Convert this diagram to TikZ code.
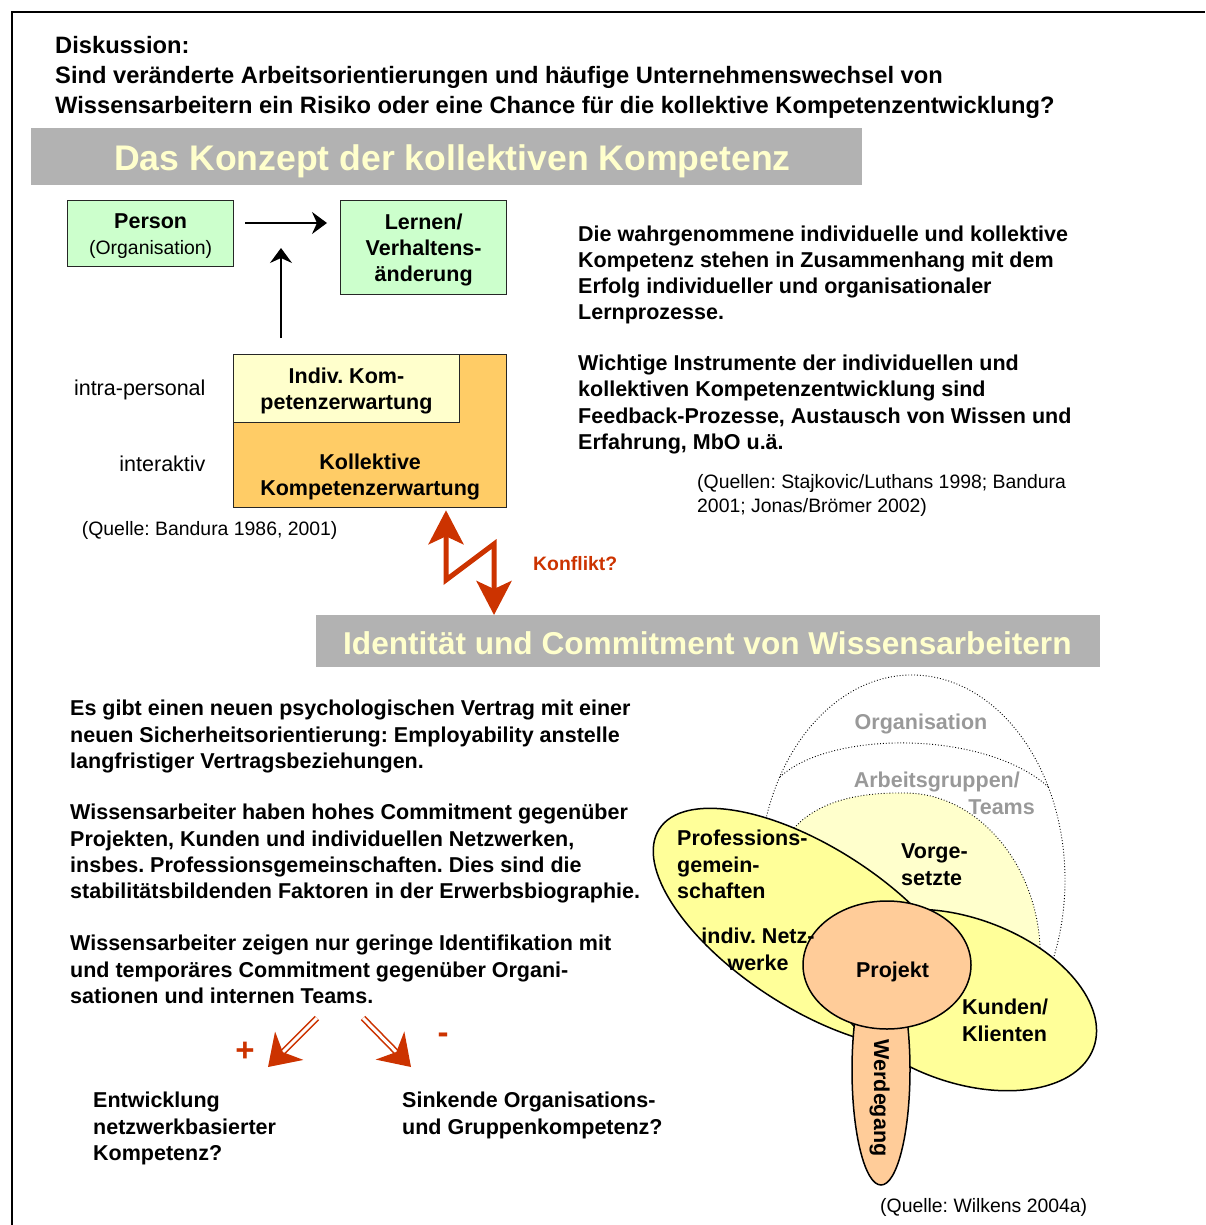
\documentclass[tikz,border=0pt]{standalone}
\usepackage{fontspec}
\setmainfont{Liberation Sans}
\usetikzlibrary{arrows.meta,positioning,calc,shapes.geometric}
\definecolor{boxgreen}{HTML}{CCFFCC}
\definecolor{paleyellow}{HTML}{FFFFCC}
\definecolor{kollorange}{HTML}{FFCC66}
\definecolor{bannergray}{HTML}{B2B2B2}
\definecolor{conflictred}{HTML}{CC3300}
\definecolor{ringyellow}{HTML}{FFFF99}
\definecolor{coreorange}{HTML}{FFCC99}
\definecolor{labelgray}{HTML}{999999}

\newcommand{\bodyfont}{\fontsize{21.5}{26.2}\selectfont\bfseries}
\newcommand{\notefont}{\fontsize{19.4}{23.3}\selectfont}
\newcommand{\boxstrut}{\rule[-5.4pt]{0pt}{26.2pt}}
\frenchspacing

\begin{document}
\begin{tikzpicture}[x=1pt, y=-1pt,
  box/.style={draw=black!85, line width=1.3pt, align=center, inner sep=0pt, anchor=north west, font=\bodyfont},
  banner/.style={fill=bannergray, inner sep=0pt, anchor=north west},
  bantext/.style={text=paleyellow, font=\fontsize{#1}{#1}\selectfont\bfseries, anchor=base west, inner sep=0pt},
  para/.style={align=left, anchor=north west, inner sep=0pt, font=\bodyfont},
  note/.style={inner sep=0pt, font=\notefont},
  flow/.style={-{Stealth[length=15pt, width=22pt, inset=5pt]}, line width=1.8pt},
  zig/.style={{Stealth[length=34pt, width=35pt, inset=8pt]}-{Stealth[length=34pt, width=35pt, inset=8pt]},
              conflictred, line width=5pt},
  hollow/.style={-{Stealth[length=30pt, width=40pt, inset=9pt]}, draw=conflictred, double=white,
                 double distance=3pt, line width=1.6pt},
  sign/.style={inner sep=0pt, font=\fontsize{33}{33}\selectfont\bfseries, text=conflictred},
  ring/.style={draw=black, line width=1.5pt, fill=ringyellow},
  core/.style={ellipse, draw=black, line width=1.5pt, fill=coreorange, inner sep=0pt},
  circletext/.style={inner sep=0pt, font=\bodyfont, align=left},
  dots/.style={dotted, line width=0.9pt},
]
  \useasboundingbox (0,0) rectangle (1205,1225);
  \draw[line width=2.2pt] (12,1225) -- (12,12) -- (1205,12);

  % Frage oben
  \node[para, font=\fontsize{23.7}{30}\selectfont\bfseries] (frage) at (55,32.5)
    {\strut Diskussion:\\Sind veränderte Arbeitsorientierungen und häufige Unternehmenswechsel von\\Wissensarbeitern ein Risiko oder eine Chance für die kollektive Kompetenzentwicklung?};

  % Konzept
  \node[banner, minimum width=831pt, minimum height=57pt] (banA) at (31,128) {};
  \node[bantext=35.6] (titelA) at (114,170.5) {Das Konzept der kollektiven Kompetenz};

  \node[box, fill=boxgreen, minimum width=166pt, minimum height=66pt] (pers) at (67,200)
    {\boxstrut Person\\{\mdseries\fontsize{19.4}{23.3}\selectfont\boxstrut(Organisation)}};
  \node[box, fill=boxgreen, minimum width=166pt, minimum height=94pt] (lern) at (340,200)
    {\boxstrut Lernen/\\\boxstrut Verhaltens-\\\boxstrut änderung};
  \node[box, fill=kollorange, minimum width=273pt, minimum height=153pt] (koll) at (233,354) {};
  \node[box, fill=paleyellow, minimum width=225.6pt, minimum height=68pt] (indiv) at (koll.north west)
    {\boxstrut Indiv. Kom-\\\boxstrut petenzerwartung};
  \node[inner sep=0pt, font=\bodyfont, align=center, above=7pt of koll.south] (kolltext)
    {\boxstrut Kollektive\\\boxstrut Kompetenzerwartung};

  \coordinate (knick) at (281,223);
  \draw[flow, shorten <=11pt, shorten >=13pt] (pers.east |- knick) -- (lern.west |- knick);
  \draw[flow, shorten <=16pt, shorten >=25pt] (indiv.north -| knick) -- (knick);

  \node[note, font=\fontsize{21.5}{26}\selectfont, anchor=base east] (intra) at (205.7,395.4) {intra-personal};
  \node[note, font=\fontsize{21.5}{26}\selectfont, anchor=base east] (inter) at (205.7,471.7) {interaktiv};
  \node[note, anchor=base west] (quelleA) at (81.7,535.2) {(Quelle: Bandura 1986, 2001)};

  \node[para] (befund) at (578,222.7)
    {\strut Die wahrgenommene individuelle und kollektive\\Kompetenz stehen in Zusammenhang mit dem\\Erfolg individueller und organisationaler\\Lernprozesse.};
  \node[para] (instr) at (578,352.1)
    {\strut Wichtige Instrumente der individuellen und\\kollektiven Kompetenzentwicklung sind\\Feedback-Prozesse, Austausch von Wissen und\\Erfahrung, MbO u.ä.};
  \node[para, font=\notefont] (quellenB) at (697,472.3)
    {\strut (Quellen: Stajkovic/Luthans 1998; Bandura\\2001; Jonas/Brömer 2002)};

  % Identitaet
  \node[banner, minimum width=784pt, minimum height=52pt] (banB) at (316,615) {};
  \node[bantext=31.6] (titelB) at (343,654) {Identität und Commitment von Wissensarbeitern};

  \coordinate (zigA) at (446,580);
  \coordinate (zigB) at (494,544);
  \draw[zig, shorten <=2pt] (koll.south -| zigA) -- (zigA) -- (zigB) -- (banB.north -| zigB);
  \node[note, font=\notefont\bfseries, text=conflictred, anchor=base west] (konfl) at (533,570.9) {Konflikt?};

  \node[para] (vertrag) at (70,697.4)
    {\strut Es gibt einen neuen psychologischen Vertrag mit einer\\neuen Sicherheitsorientierung: Employability anstelle\\langfristiger Vertragsbeziehungen.};
  \node[para] (commit) at (70,801.4)
    {\strut Wissensarbeiter haben hohes Commitment gegenüber\\Projekten, Kunden und individuellen Netzwerken,\\insbes. Professionsgemeinschaften. Dies sind die\\stabilitätsbildenden Faktoren in der Erwerbsbiographie.};
  \node[para] (ident) at (70,932.4)
    {\strut Wissensarbeiter zeigen nur geringe Identifikation mit\\und temporäres Commitment gegenüber Organi-\\sationen und internen Teams.};

  \coordinate (plusA) at (317,1018);
  \coordinate (plusB) at (268,1067);
  \coordinate (minusA) at (363,1018);
  \coordinate (minusB) at (411,1067);
  \draw[hollow] (plusA) -- (plusB);
  \draw[hollow] (minusA) -- (minusB);
  \node[sign] (plus) at (245,1052) {+};
  \node[sign] (minus) at (443,1038) {-};

  \node[para] (netz) at (93,1089.4) {\strut Entwicklung\\netzwerkbasierter\\Kompetenz?};
  \node[para] (sinken) at (402,1089.4) {\strut Sinkende Organisations-\\und Gruppenkompetenz?};

  % Ellipsen
  \draw[dots] (912,880) ++(194:153 and 205) arc[start angle=194, end angle=385, x radius=153, y radius=205];
  \draw[dots] (780,777) .. controls (830,730) and (985,730) .. (1048.4,787);
  \draw[dots, fill=paleyellow] (780,850) .. controls (800,805) and (850,792) .. (905,793)
    .. controls (975,793) and (1035,860) .. (1040,945) -- (1041,1000) -- (887,965) -- (780,880) -- cycle;
  \draw[ring, rotate around={-33:(812,928)}] (812,928) ellipse [x radius=182, y radius=80];
  \draw[ring, rotate around={-20:(962,1000)}] (962,1000) ellipse [x radius=140, y radius=82];
  \node[core, minimum width=58pt, minimum height=230pt] (werd) at (881,1070) {};
  \node[core, minimum width=168pt, minimum height=128pt] (proj) at (887,965) {};

  \node[circletext, text=labelgray, anchor=base] (orgtext) at (921,729.7) {Organisation};
  \node[circletext, text=labelgray, align=right, anchor=north east] (agtext) at (1035,769.4)
    {\strut Arbeitsgruppen/\hspace*{15pt}\\Teams};
  \node[circletext, anchor=north west] (proftext) at (677,827.4) {\strut Professions-\\gemein-\\schaften};
  \node[circletext, anchor=north west] (vgtext) at (901,840.4) {\strut Vorge-\\setzte};
  \node[circletext, align=center, anchor=north] (nwtext) at (758,925.4) {\strut indiv. Netz-\\werke};
  \node[circletext, anchor=north west] (kdtext) at (962,996.4) {\strut Kunden/\\Klienten};
  \node[circletext, anchor=base] (projtext) at (892.5,977.7) {Projekt};
  \node[circletext, rotate=-90] (werdtext) at (879.5,1098) {Werdegang};
  \node[note, anchor=base west] (quelleC) at (880,1212) {(Quelle: Wilkens 2004a)};
\end{tikzpicture}
\end{document}
